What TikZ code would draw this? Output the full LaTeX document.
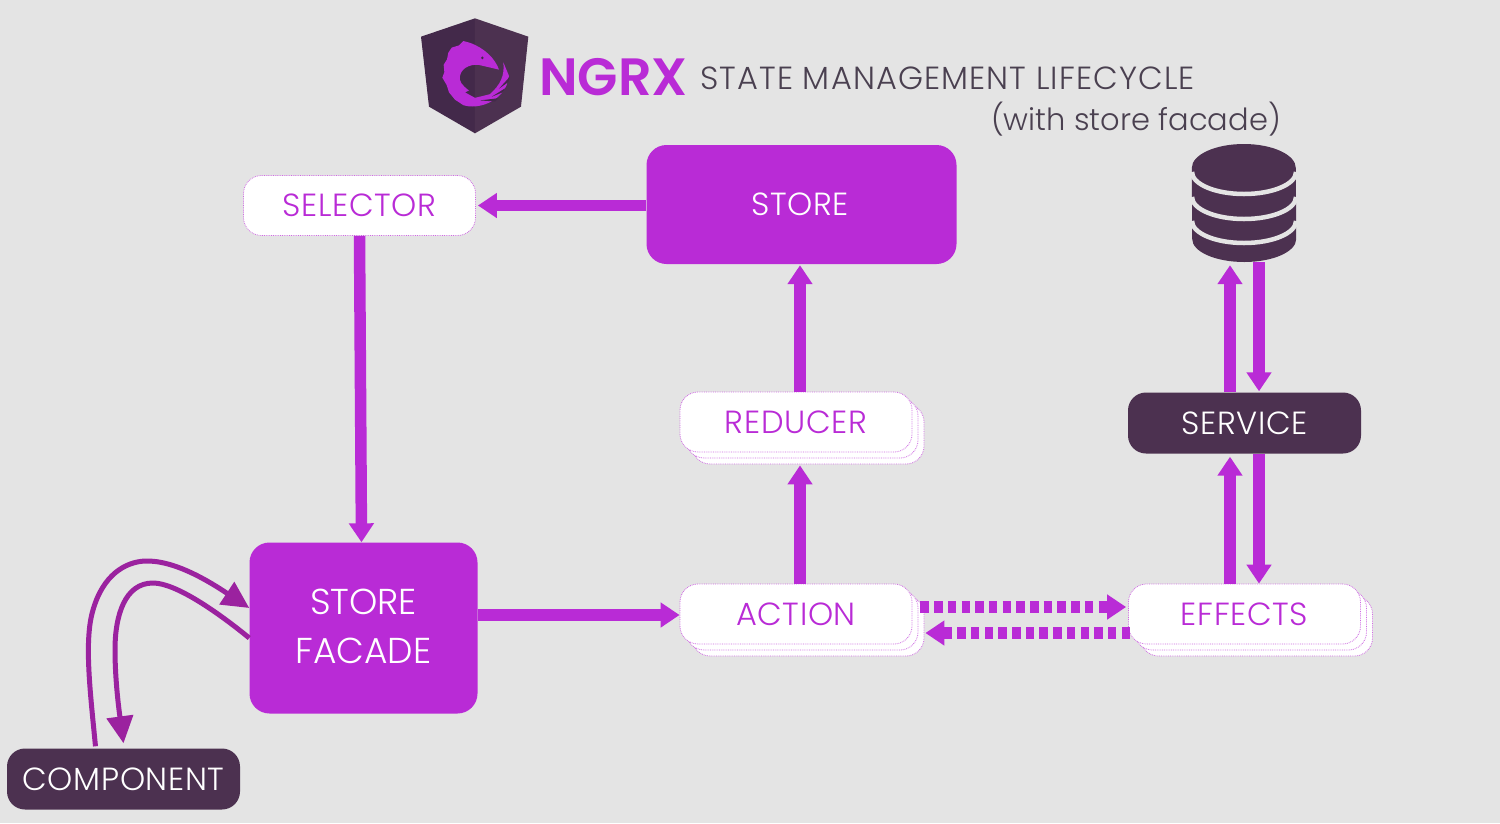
\documentclass[tikz,border=0pt]{standalone}
\usepackage{fontspec}
\setmainfont{Poppins}[UprightFont=* Light,BoldFont=* SemiBold]
\usetikzlibrary{arrows.meta,shadows,calc}
\definecolor{bgGrey}{HTML}{E4E4E4}
\definecolor{ngrxPurple}{HTML}{B92BD6}
\definecolor{ngrxDark}{HTML}{4C3150}
\definecolor{shieldDark}{HTML}{43294A}
\definecolor{curvePurple}{HTML}{9B229F}
\definecolor{titleGrey}{HTML}{4A4050}
\newcommand{\labelsize}{\fontsize{32}{49}\selectfont\addfontfeature{LetterSpace=2}}
\newcommand{\facadesize}{\fontsize{36}{49}\selectfont}
\begin{document}
\begin{tikzpicture}[x=1pt,y=-1pt]
	\tikzstyle{solidbox} = [draw=none, fill=ngrxPurple, rounded corners=20pt, text=white, align=center, inner sep=0, font=\labelsize]
	\tikzstyle{darkbox} = [fill=ngrxDark, rounded corners=18pt, text=white, minimum width=233pt, minimum height=61pt, inner sep=0, font=\labelsize]
	\tikzstyle{whitebox} = [draw=ngrxPurple!70, densely dotted, line width=0.8pt, fill=white, rounded corners=18pt, text=ngrxPurple, minimum width=232pt, minimum height=60pt, inner sep=0, font=\labelsize]
	\tikzstyle{stackbox} = [whitebox, double copy shadow={shadow xshift=6pt, shadow yshift=-6pt}]
	\tikzstyle{flow} = [-{Triangle[length=19pt,width=24pt]}, line width=11.5pt, ngrxPurple]
	\tikzstyle{flowdash} = [flow, dash pattern=on 8.5pt off 5.2pt]
	\tikzstyle{curveflow} = [-{Triangle[length=27pt,width=26pt]}, line width=5pt, curvePurple]
	\fill [bgGrey] (0,0) rectangle (1500,823);
	% logo
	\begin{scope}[shift={(410,10)},x=0.3333pt,y=-0.3333pt]
		\fill [shieldDark] (195,25) -- (33,80) -- (57,290) -- (195,370) -- cycle;
		\fill [ngrxDark] (195,25) -- (355,80) -- (333,290) -- (195,370) -- cycle;
	\end{scope}
	\begin{scope}[shift={(435,30)},x=0.3333pt,y=-0.3667pt]
		\fill [ngrxPurple] (192,108) .. controls (180,78) and (150,50) .. (105,35)
			-- (85,30) -- (72,42) -- (50,48) -- (40,62) -- (36,80) -- (26,95) -- (28,115) -- (22,130) -- (35,150) -- (42,170) -- (60,190) -- (85,205)
			.. controls (130,218) and (195,195) .. (215,150) -- (222,125) -- (205,88)
			.. controls (210,125) and (195,150) .. (165,175) -- (120,185) -- (90,170) -- (102,165)
			.. controls (80,150) and (72,140) .. (75,125)
			.. controls (80,100) and (115,90) .. (140,97) -- cycle;
		\fill [shieldDark] (142,76) circle (4);
		\fill [shieldDark] (224,128) -- (192,160) -- (220,142) -- cycle;
		\fill [shieldDark] (212,158) -- (170,182) -- (203,170) -- cycle;
		\fill [shieldDark] (190,186) -- (135,192) -- (180,195) -- cycle;
	\end{scope}
	% title
	\node [text=ngrxPurple, font=\fontsize{52.5}{60}\bfseries, inner sep=0] (ngrx) at (613.5,77) {NGRX};
	\node [text=titleGrey, font=\fontsize{32}{38}\selectfont\addfontfeature{LetterSpace=3.5}, inner sep=0] (title) at (947.5,78) {STATE MANAGEMENT LIFECYCLE};
	\node [text=titleGrey, font=\fontsize{30.5}{38}\selectfont, inner sep=0] (subtitle) at (1136,119) {(with store facade)};
	% boxes
	\node [solidbox, minimum width=310pt, minimum height=119pt] (store) at (801.5,204.5) {\hspace{-3pt}\raisebox{-1pt}{STORE}};
	\node [whitebox] (selector) at (359.5,205.5) {\raisebox{-1pt}{SELECTOR}};
	\node [stackbox] (reducer) at (796,422) {\raisebox{-1pt}{REDUCER}};
	\node [stackbox] (action) at (796,614) {\raisebox{-1pt}{ACTION}};
	\node [stackbox] (effects) at (1244.5,614) {\raisebox{-1pt}{EFFECTS}};
	\node [darkbox] (service) at (1244.5,423) {\raisebox{-1pt}{SERVICE}};
	\node [darkbox] (component) at (123.5,779) {COMPONENT};
	\node [solidbox, font=\facadesize, minimum width=228pt, minimum height=171pt] (facade) at (363.5,628) {STORE\\FACADE\rule[-4pt]{0pt}{4pt}};
	% database
	\node [minimum width=104pt, minimum height=118pt, inner sep=0] (db) at (1244,203) {};
	\fill [ngrxDark] (db.west |- 0,168) arc [start angle=180, end angle=0, x radius=52, y radius=-24]
		-- (db.east |- 0,239) arc [start angle=0, end angle=-180, x radius=52, y radius=-23] -- cycle;
	\foreach \yy in {172,197,221}
		\draw [bgGrey, line width=4.5pt] (1192,\yy) arc [start angle=180, end angle=360, x radius=52, y radius=-22];
	% connectors
	\draw [flow] (store.west |- selector.east) -- ($(selector.east)+(2,0)$);
	\draw [flow] (selector.south) -- ($(facade.north)+(-2,0)$);
	\draw [flow] ($(store.south |- reducer.north)+(-1.5,0)$) -- ($(store.south)+(-1.5,1)$);
	\draw [flow] ($(store.south |- action.north)+(-1.5,0)$) -- ($(store.south |- reducer.south)+(-1.5,13)$);
	\draw [flow] ($(facade.east |- action.west)+(0,1)$) -- ($(action.west)+(0,1)$);
	\draw [flow] ($(service.north)+(-14.5,0)$) -- ($(service.north |- db.south)+(-14.5,3)$);
	\draw [flow] ($(service.north |- db.south)+(14.5,0)$) -- ($(service.north)+(14.5,-1)$);
	\draw [flow] ($(effects.north)+(-14.5,0)$) -- ($(service.south)+(-14.5,3)$);
	\draw [flow] ($(service.south)+(14.5,0)$) -- ($(effects.north)+(14.5,0)$);
	\draw [flowdash] ($(action.east)+(8,-7)$) -- ($(effects.west)+(-2,-7)$);
	\draw [flowdash] ($(effects.west)+(2,19)$) -- ($(action.east)+(13,19)$);
	\draw [curveflow] ($(component.north)+(-28,-2)$) .. controls (90,690) and (84,640) .. (93,610) .. controls (103,575) and (125,562) .. (145,561) .. controls (175,560) and (210,582) .. (facade.west |- 0,608);
	\draw [curveflow] (facade.west |- 0,638) .. controls (215,610) and (175,583) .. (153,583) .. controls (125,583) and (115,615) .. (115,650) .. controls (115,680) and (119,710) .. ($(component.north)+(0,-5)$);
\end{tikzpicture}
\end{document}
